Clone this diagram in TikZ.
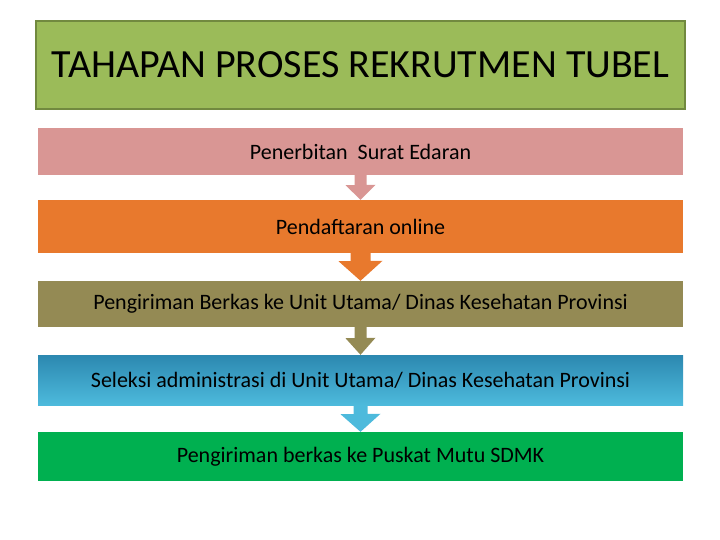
\documentclass[tikz,border=0pt]{standalone}
\usepackage{fontspec}
\setmainfont{Carlito}
\usepackage{tikz}
\definecolor{titlegreen}{HTML}{9BBB59}
\definecolor{titleedge}{HTML}{71893F}
\definecolor{stepA}{HTML}{D99694}
\definecolor{stepB}{HTML}{E8792D}
\definecolor{stepC}{HTML}{948A54}
\definecolor{stepDtop}{HTML}{2C88B0}
\definecolor{stepDbot}{HTML}{4DBADC}
\definecolor{stepE}{HTML}{00B050}
\tikzset{
  stagebox/.style={minimum width=645pt, inner sep=0pt, font=\fontsize{22}{24}\selectfont},
  flowarrow/.style={fill=#1}
}
\begin{document}
\begin{tikzpicture}[x=1pt,y=-1pt]
  \useasboundingbox (0,0) rectangle (720,540);
  \node[draw=titleedge, line width=2pt, fill=titlegreen, minimum width=649pt, minimum height=88pt,
        font=\fontsize{40}{44}\selectfont] (title) at (360.5,65) {TAHAPAN PROSES REKRUTMEN TUBEL};

  \node[stagebox, fill=stepA, minimum height=47pt] (edaran) at (360.5,151.5) {Penerbitan\ \ Surat Edaran};
  \node[stagebox, fill=stepB, minimum height=53pt] (daftar) at (360.5,226.5) {Pendaftaran online};
  \node[stagebox, fill=stepC, minimum height=46pt] (kirim) at (360.5,304) {Pengiriman Berkas ke Unit Utama/ Dinas Kesehatan Provinsi};
  \node[stagebox, top color=stepDtop, bottom color=stepDbot, minimum height=50pt] (seleksi) at (360.5,380) {Seleksi administrasi di Unit Utama/ Dinas Kesehatan Provinsi};
  \node[stagebox, fill=stepE, minimum height=49pt] (puskat) at (360.5,456.5) {Pengiriman berkas ke Puskat Mutu SDMK};

  \fill[flowarrow=stepA] (edaran.south) ++(-6,0) -- ++(0,10) -- ++(-9,0) -- (daftar.north) -- ++(15,-15) -- ++(-9,0) -- ++(0,-10) -- cycle;
  \fill[flowarrow=stepB] (daftar.south) ++(-10,0) -- ++(0,8) -- ++(-12,0) -- (kirim.north) -- ++(22,-20) -- ++(-12,0) -- ++(0,-8) -- cycle;
  \fill[flowarrow=stepC] (kirim.south) ++(-6,0) -- ++(0,11) -- ++(-9,0) -- (seleksi.north) -- ++(15,-17) -- ++(-9,0) -- ++(0,-11) -- cycle;
  \fill[flowarrow=stepDbot] (seleksi.south) ++(-7,0) -- ++(0,9) -- ++(-13,0) -- (puskat.north) -- ++(20,-18) -- ++(-13,0) -- ++(0,-9) -- cycle;
\end{tikzpicture}
\end{document}
